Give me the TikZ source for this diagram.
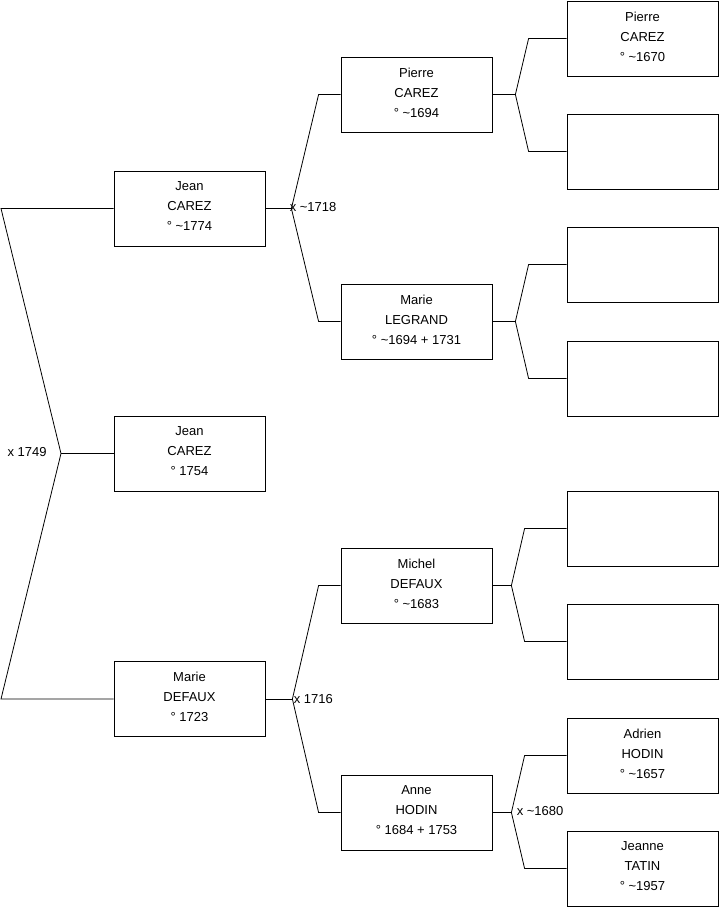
\documentclass[tikz,border=0pt]{standalone}
\usepackage{fontspec}
\setmainfont{Liberation Sans}
\newcommand{\abt}{\textasciitilde}
\begin{document}
\begin{tikzpicture}[x=1pt, y=-1pt, line width=0.8pt,
    person/.style={draw, minimum width=151pt, minimum height=75pt, inner sep=0pt, text depth=4pt, align=center, font=\fontsize{13}{20}\selectfont},
    wed/.style={inner sep=0pt, font=\fontsize{13}{16}\selectfont}]
  \useasboundingbox (0,0) rectangle (719,908);
  % the child
  \node[person] (self) at (189.5,453.5) {Jean\\CAREZ\\° 1754};
  % parents
  \node[person] (fa) at (189.5,208.5) {Jean\\CAREZ\\° \abt1774};
  \node[person] (mo) at (189.5,699) {Marie\\DEFAUX\\° 1723};
  % grandparents
  \node[person] (fafa) at (416.5,94.5) {Pierre\\CAREZ\\° \abt1694};
  \node[person] (famo) at (416.5,321.5) {Marie\\LEGRAND\\° \abt1694 + 1731};
  \node[person] (mofa) at (416.5,585.5) {Michel\\DEFAUX\\° \abt1683};
  \node[person] (momo) at (416.5,812.5) {Anne\\HODIN\\° 1684 + 1753};
  % great-grandparents
  \node[person] (fafafa) at (642.5,38.5) {Pierre\\CAREZ\\° \abt1670};
  \node[person] (fafamo) at (642.5,151.5) {};
  \node[person] (famofa) at (642.5,264.5) {};
  \node[person] (famomo) at (642.5,378.5) {};
  \node[person] (mofafa) at (642.5,528.5) {};
  \node[person] (mofamo) at (642.5,641.5) {};
  \node[person] (momofa) at (642.5,755.5) {Adrien\\HODIN\\° \abt1657};
  \node[person] (momomo) at (642.5,868.5) {Jeanne\\TATIN\\° \abt1957};

  % fork of the child
  \coordinate (edge) at (1,0);
  \coordinate (kself) at (61,453.5);
  \draw (fa.west) -- (fa.west -| edge) -- (kself) -- (mo.west -| edge) -- (mo.west);
  \draw (kself) -- (self.west);
  \node[wed, anchor=east] at ([xshift=-14pt,yshift=1pt]kself) {x 1749};

  % forks of the couples
  \foreach \c/\f/\m/\d/\g in {fa/fafa/famo/26/22pt, mo/mofa/momo/27/22pt,
      fafa/fafafa/fafamo/23/38pt, famo/famofa/famomo/23/38pt,
      mofa/mofafa/mofamo/19/42pt, momo/momofa/momomo/19/42pt} {
    \draw (\c.east) -- ++(\d,0) coordinate (k\c);
    \draw (\f.west) -- ([xshift=-\g]\f.west) -- (k\c) -- ([xshift=-\g]\m.west) -- (\m.west);
  }
  \node[wed, anchor=west] at ([xshift=-2pt,yshift=1pt]kfa) {x \abt1718};
  \node[wed, anchor=west] at ([xshift=1pt]kmo) {x 1716};
  \node[wed, anchor=west] at ([xshift=5pt,yshift=1pt]kmomo) {x \abt1680};
\end{tikzpicture}
\end{document}
